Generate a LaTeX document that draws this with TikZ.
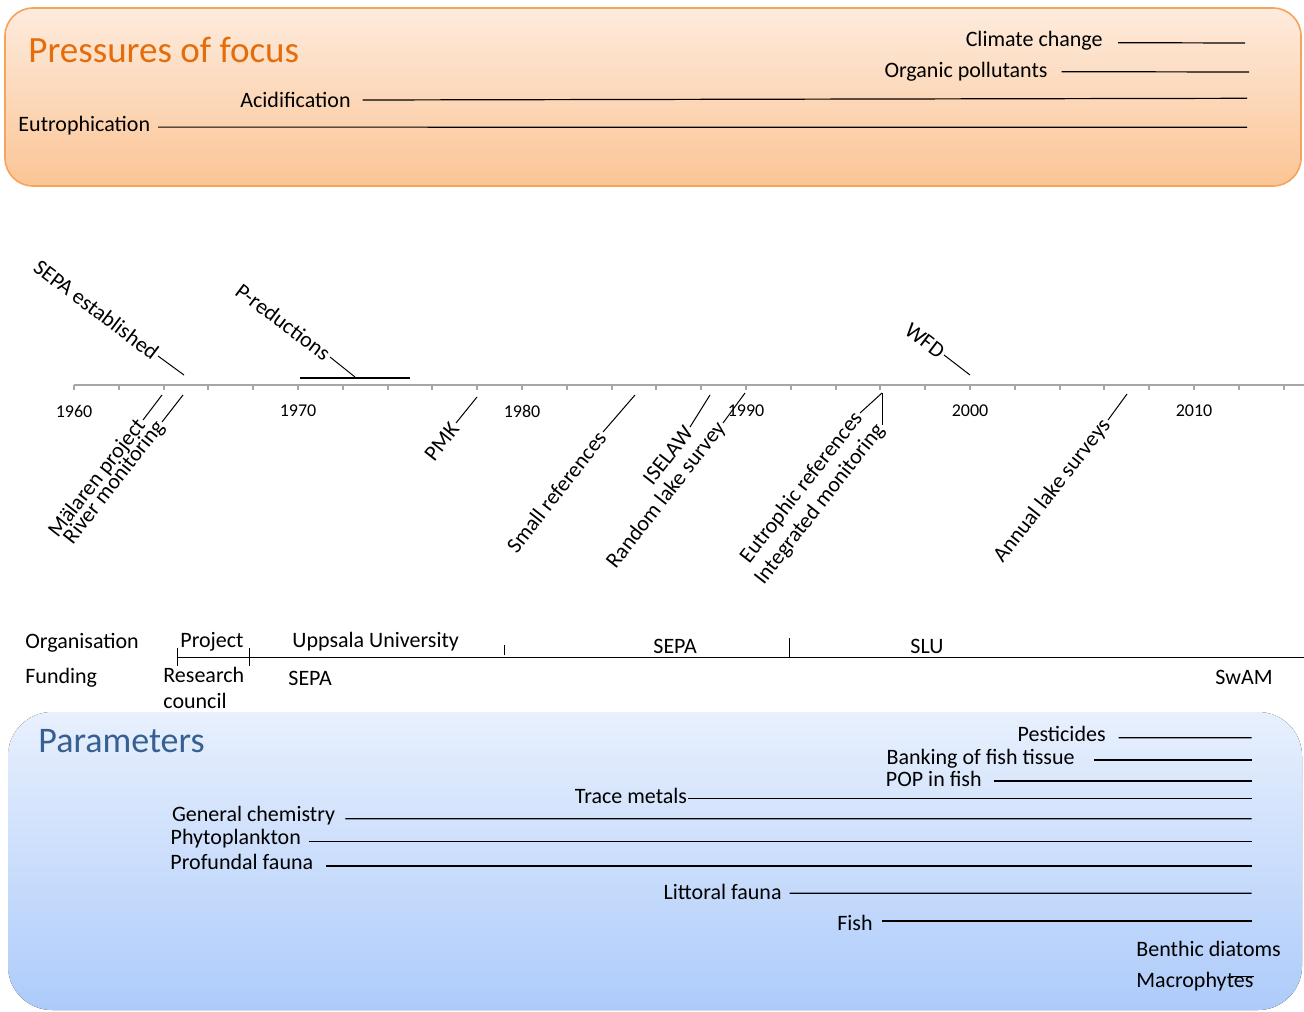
\documentclass[tikz,border=0pt]{standalone}
\usepackage{fontspec}
\setmainfont{Carlito}
\usetikzlibrary{calc}

\definecolor{peachtop}{HTML}{FDEBDD}
\definecolor{peachbot}{HTML}{FBC595}
\definecolor{peachedge}{HTML}{F6A35C}
\definecolor{pressorange}{HTML}{E46C0A}
\definecolor{bluetop}{HTML}{E8F0FD}
\definecolor{bluebot}{HTML}{ADCBFA}
\definecolor{paramblue}{HTML}{376092}
\definecolor{axisgray}{HTML}{A6A6A6}

\begin{document}
\begin{tikzpicture}[x=0.5pt, y=-0.5pt,
  lbl/.style={font=\fontsize{11}{13}\selectfont, inner sep=0pt},
  yr/.style={font=\fontsize{9}{11}\selectfont, inner sep=0pt},
  up/.style={lbl, inner sep=1pt, rotate=-37, anchor=east},
  down/.style={lbl, inner sep=1pt, rotate=52, anchor=east},
  bar/.style={black, line width=0.6pt},
  lead/.style={black, line width=0.5pt}]
\useasboundingbox (0,0) rectangle (1304,1011);

% pressures
\draw[peachedge, line width=0.8pt, top color=peachtop, bottom color=peachbot, rounded corners=14pt] (5,8) rectangle (1301,186);
\node[lbl, anchor=base west, font=\fontsize{18.5}{22}\selectfont, text=pressorange] (prestitle) at (28,62) {Pressures of focus};
\node[lbl, anchor=base east] (climate) at (1103,47) {Climate change};
\node[lbl, anchor=base east] (organic) at (1048,77) {Organic pollutants};
\node[lbl, anchor=base east] (acid) at (351,107.5) {Acidification};
\node[lbl, anchor=base east] (eutro) at (150.5,131.5) {Eutrophication};
\coordinate (climateend) at (1245,43);
\coordinate (organicend) at (1249,72);
\coordinate (acidend) at (1247,98.3);
\coordinate (eutroend) at (1247,127.3);
\draw[bar] (climate.base east) ++(15,-4.3) -- (climateend);
\draw[bar] (organic.base east) ++(13.5,-5.3) -- (organicend);
\draw[bar] (acid.base east) ++(11.5,-7.5) -- (acidend);
\draw[bar] (eutro.base east) ++(7.5,-4.4) -- (eutroend);

% timeline
\coordinate (t0) at (74,385);
\coordinate (t1) at (1304,385);
\draw[axisgray, line width=1pt] (t0) -- (t1);
\foreach \i in {0,...,27}
  \draw[axisgray, line width=1pt] ($(t0)+(44.8*\i,0)$) -- ++(0,5);
\foreach \yr [count=\k from 0] in {1960,1970,...,2010}
  \node[yr] (y\yr) at (74+224*\k,411) {\yr};

% events above
\node[up] (sepaest) at (158,356) {SEPA established};
\node[up] (preduc) at (330,357) {P-reductions};
\node[up] (wfd) at (944,355) {WFD};
\coordinate (a67) at (184,375);
\coordinate (a73) at (355,377);
\coordinate (a70) at (300,378);
\coordinate (a75) at (410,378);
\coordinate (a00) at (970,375);
\draw[lead] (sepaest.east) -- (a67);
\draw[lead] (preduc.east) -- (a73);
\draw[bar] (a70) -- (a75);
\draw[lead] (wfd.east) -- (a00);

% events below
\node[down] (malaren) at (143,420) {Mälaren project};
\node[down] (river) at (162,422) {River monitoring};
\node[down] (pmk) at (456,423) {PMK};
\node[down] (smallref) at (603,432) {Small references};
\node[down] (iselaw) at (690,427) {ISELAW};
\node[down] (random) at (723,423) {Random lake survey};
\node[down] (eutref) at (860,413) {Eutrophic references};
\node[down] (intmon) at (882,425) {Integrated monitoring};
\node[down] (annual) at (1108,420) {Annual lake surveys};
\coordinate (b64) at (162,395);
\coordinate (b65) at (183,395);
\coordinate (b78) at (477,397);
\coordinate (b85) at (635,395);
\coordinate (b88) at (710,395);
\coordinate (b89) at (745,393);
\coordinate (b97) at (882,393);
\coordinate (b07) at (1127,394);
\draw[lead] (malaren.east) -- (b64);
\draw[lead] (river.east) -- (b65);
\draw[lead] (pmk.east) -- (b78);
\draw[lead] (smallref.east) -- (b85);
\draw[lead] (iselaw.east) -- (b88);
\draw[lead] (random.east) -- (b89);
\draw[lead] (eutref.east) -- (b97);
\draw[lead] (intmon.east) -- (intmon.east |- b97);
\draw[lead] (annual.east) -- (b07);

% organisation and funding
\node[lbl, anchor=base west] (orgn) at (25,648) {Organisation};
\node[lbl, anchor=base west] (fund) at (25,683) {Funding};
\node[lbl, anchor=base west] (proj) at (180,647) {Project};
\node[lbl, anchor=base west] (uu) at (292,647) {Uppsala University};
\node[lbl, anchor=base west] (sepaorg) at (653,653) {SEPA};
\node[lbl, anchor=base west] (slu) at (910,653) {SLU};
\node[lbl, anchor=base west] (research) at (163,682) {Research};
\node[lbl, anchor=base west] (council) at (163,708) {council};
\node[lbl, anchor=base west] (sepafund) at (288,685) {SEPA};
\node[lbl, anchor=base west] (swam) at (1215,684) {SwAM};
\coordinate (o0) at (177,657.5);
\coordinate (o1) at (1304,657.5);
\draw[bar] (o0) -- (o1);
\draw[lead] (177,648) -- (177,666);
\draw[lead] (249.6,648) -- (249.6,666);
\draw[lead] (504.2,645) -- (504.2,655);
\draw[lead] (789,638) -- (789,658);

% parameters
\fill[top color=bluetop, bottom color=bluebot, rounded corners=22pt] (8,712) rectangle (1302,1010);
\node[lbl, anchor=base west, font=\fontsize{18}{22}\selectfont, text=paramblue] (partitle) at (38,752) {Parameters};
\node[lbl, anchor=base east] (pest) at (1106,741.5) {Pesticides};
\node[lbl, anchor=base east] (bank) at (1075,764) {Banking of fish tissue};
\node[lbl, anchor=base east] (pop) at (982,786.7) {POP in fish};
\node[lbl, anchor=base east] (trace) at (687.4,803.3) {Trace metals};
\node[lbl, anchor=base east] (genchem) at (335.4,821) {General chemistry};
\node[lbl, anchor=base east] (phyto) at (301.3,844.3) {Phytoplankton};
\node[lbl, anchor=base east] (profund) at (313.6,869.5) {Profundal fauna};
\node[lbl, anchor=base east] (littoral) at (782,899) {Littoral fauna};
\node[lbl, anchor=base east] (fish) at (873,930) {Fish};
\node[lbl, anchor=base west] (benthic) at (1136,956) {Benthic diatoms};
\node[lbl, anchor=base west] (macro) at (1136,987.7) {Macrophytes};
\coordinate (pest2) at (1251.6,737.7);
\coordinate (bank2) at (1251.6,760);
\coordinate (pop2) at (1251.6,781);
\coordinate (trace2) at (1251.6,798.7);
\coordinate (genchem2) at (1251.6,818.7);
\coordinate (phyto2) at (1251.6,841.7);
\coordinate (profund2) at (1251.6,866);
\coordinate (littoral2) at (1251.6,893.3);
\coordinate (fish2) at (1251.6,921);
\draw[bar] (pest.base east) ++(12.6,-3.8) -- (pest2);
\draw[bar] (bank.base east) ++(19,-4) -- (bank2);
\draw[bar] (pop.base east) ++(11.7,-5.7) -- (pop2);
\draw[bar] (trace.base east) ++(1,-4.6) -- (trace2);
\draw[bar] (genchem.base east) ++(10,-2.3) -- (genchem2);
\draw[bar] (phyto.base east) ++(7.2,-2.6) -- (phyto2);
\draw[bar] (profund.base east) ++(12.6,-3.5) -- (profund2);
\draw[bar] (littoral.base east) ++(7.5,-5.7) -- (littoral2);
\draw[bar] (fish.base east) ++(9.3,-9) -- (fish2);
\draw[bar] (macro.base east) ++(-22.5,-11) -- ++(22.5,0);
\end{tikzpicture}
\end{document}
